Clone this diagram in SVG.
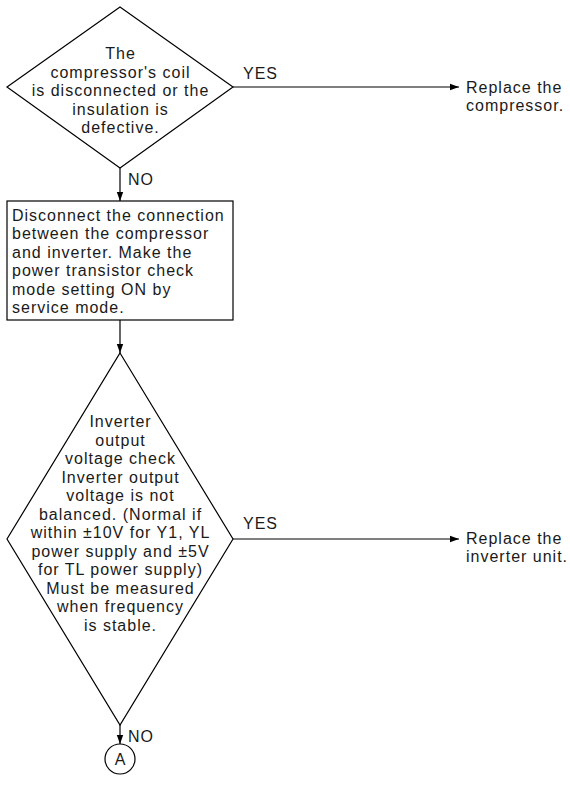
<svg xmlns="http://www.w3.org/2000/svg" width="570" height="785" viewBox="0 0 570 785">
<style>
.s{fill:none;stroke:#000;stroke-width:1.2}
.w{fill:#fff;stroke:#000;stroke-width:1.2}
text{font-family:"Liberation Sans",Arial,sans-serif;font-size:16px;letter-spacing:1px;fill:#1a1a1a}
.c{text-anchor:middle}
</style>
<defs>
<marker id="ah" markerWidth="10" markerHeight="8" refX="9" refY="4" orient="auto" markerUnits="userSpaceOnUse">
<path d="M0,0.8 L9,4 L0,7.2 Z" fill="#000"/>
</marker>
</defs>
<g id="connectors">
<line class="s" x1="233" y1="87" x2="459" y2="87" marker-end="url(#ah)"/>
<line class="s" x1="120" y1="168" x2="120" y2="201" marker-end="url(#ah)"/>
<line class="s" x1="120" y1="320" x2="120" y2="353" marker-end="url(#ah)"/>
<line class="s" x1="233" y1="539" x2="459" y2="539" marker-end="url(#ah)"/>
<line class="s" x1="120" y1="725" x2="120" y2="744" marker-end="url(#ah)"/>
<text x="243" y="79">YES</text>
<text x="128" y="185">NO</text>
<text x="243" y="529">YES</text>
<text x="128" y="742">NO</text>
</g>
<g id="d1">
<polygon class="w" points="120,7 233,87 120,168 7,87"/>
<text class="c" x="120.5" y="59">The</text>
<text class="c" x="120.5" y="78">compressor's coil</text>
<text class="c" x="120.5" y="96">is disconnected or the</text>
<text class="c" x="120.5" y="115">insulation is</text>
<text class="c" x="120.5" y="133">defective.</text>
</g>
<g id="r1">
<text x="466" y="93">Replace the</text>
<text x="466" y="111">compressor.</text>
</g>
<g id="box">
<rect class="w" x="7" y="201" width="226" height="119"/>
<text x="12" y="221">Disconnect the connection</text>
<text x="12" y="239">between the compressor</text>
<text x="12" y="258">and inverter. Make the</text>
<text x="12" y="276">power transistor check</text>
<text x="12" y="295">mode setting ON by</text>
<text x="12" y="313">service mode.</text>
</g>
<g id="d2">
<polygon class="w" points="120,353 233,539 120,725 7,539"/>
<text class="c" x="120.5" y="427">Inverter</text>
<text class="c" x="120.5" y="446">output</text>
<text class="c" x="120.5" y="464">voltage check</text>
<text class="c" x="120.5" y="483">Inverter output</text>
<text class="c" x="120.5" y="501">voltage is not</text>
<text class="c" x="120.5" y="520">balanced. (Normal if</text>
<text class="c" x="120.5" y="538">within ±10V for Y1, YL</text>
<text class="c" x="120.5" y="557">power supply and ±5V</text>
<text class="c" x="120.5" y="575">for TL power supply)</text>
<text class="c" x="120.5" y="594">Must be measured</text>
<text class="c" x="120.5" y="612">when frequency</text>
<text class="c" x="120.5" y="631">is stable.</text>
</g>
<g id="r2">
<text x="466" y="544">Replace the</text>
<text x="466" y="562">inverter unit.</text>
</g>
<g id="a">
<circle class="w" cx="120" cy="759" r="15"/>
<text class="c" x="120.5" y="765">A</text>
</g>
</svg>
